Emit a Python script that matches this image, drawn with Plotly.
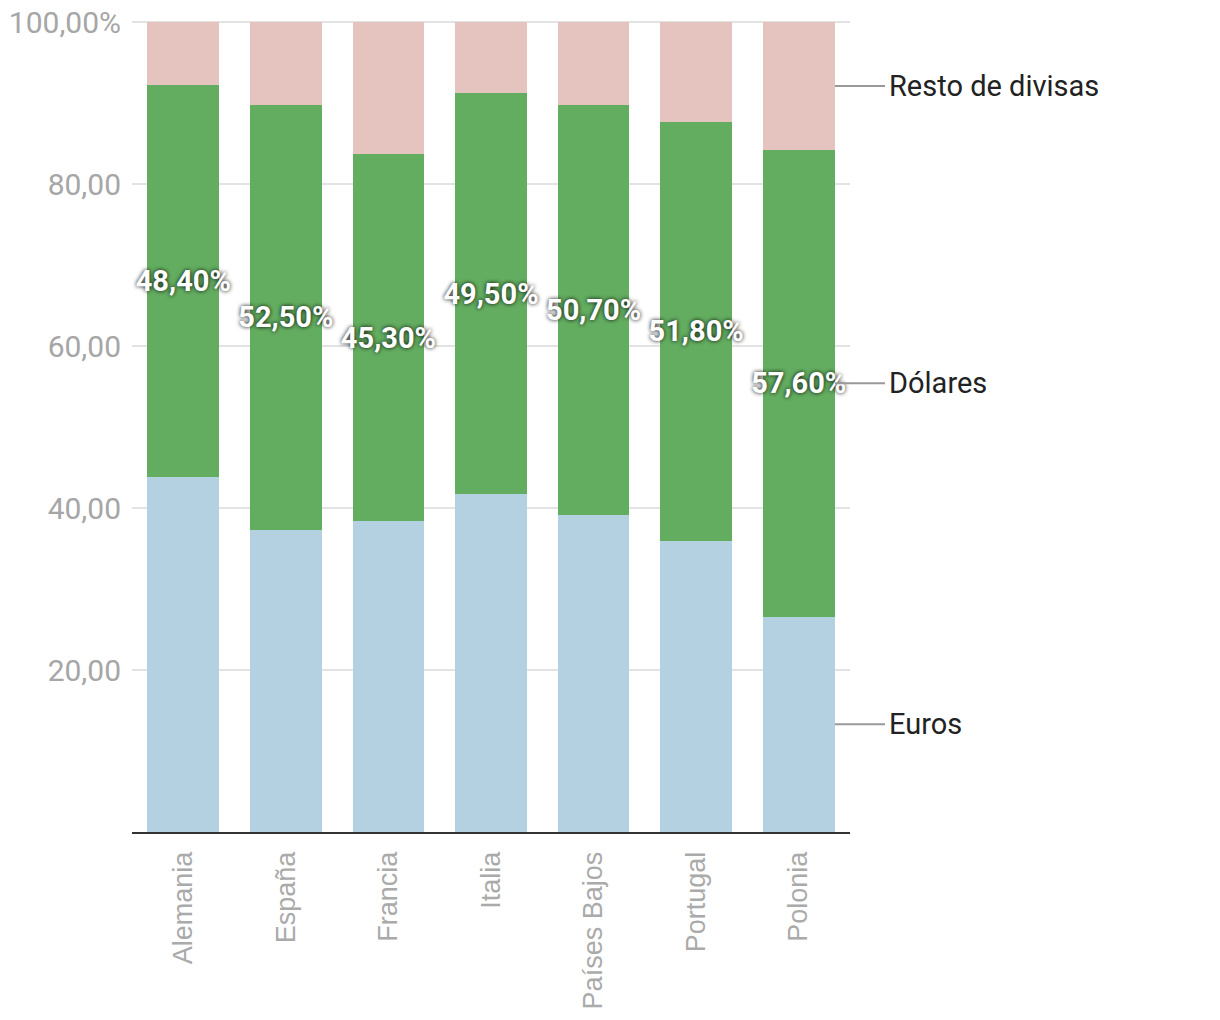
import plotly.graph_objects as go

paises = ["Alemania", "España", "Francia", "Italia", "Países Bajos", "Portugal", "Polonia"]
euros = [43.8, 37.3, 38.4, 41.7, 39.1, 35.9, 26.6]
dolares = [48.4, 52.5, 45.3, 49.5, 50.7, 51.8, 57.6]
resto = [round(100 - e - d, 1) for e, d in zip(euros, dolares)]
etiquetas_dolares = ["48,40%", "52,50%", "45,30%", "49,50%", "50,70%", "51,80%", "57,60%"]
series_nombres = ["Euros", "Dólares", "Resto de divisas"]
y_ticks = [20, 40, 60, 80, 100]
y_ticktext = ["20,00", "40,00", "60,00", "80,00", "100,00%"]

c_euros = "#b3d1e1"
c_dol = "#63ad60"
c_resto = "#e5c3bf"

fig = go.Figure()
fig.add_trace(go.Bar(x=paises, y=euros, name="Euros", marker=dict(color=c_euros, line=dict(width=0)),
                     hoverinfo="skip"))
fig.add_trace(go.Bar(x=paises, y=dolares, name="Dólares", marker=dict(color=c_dol, line=dict(width=0)),
                     text=etiquetas_dolares, textposition="inside", insidetextanchor="middle",
                     textangle=0, constraintext="none",
                     textfont=dict(family="Roboto", size=29, color="white", weight="bold",
                                   shadow="0px 0px 4px rgba(0,0,0,0.95)"),
                     hoverinfo="skip"))
fig.add_trace(go.Bar(x=paises, y=resto, name="Resto de divisas", marker=dict(color=c_resto, line=dict(width=0)),
                     hoverinfo="skip"))

# side labels at midpoints of the last bar's segments
last = len(paises) - 1
mids = [euros[last] / 2,
        euros[last] + dolares[last] / 2,
        euros[last] + dolares[last] + resto[last] / 2]
x0p = (835 - 132) / 718
x1p = (885 - 132) / 718
for name, ym in zip(series_nombres, mids):
    fig.add_shape(type="line", xref="paper", yref="y", x0=x0p, x1=x1p, y0=ym, y1=ym,
                  line=dict(color="#999999", width=2), layer="above")
    fig.add_annotation(xref="paper", yref="y", x=x1p, y=ym, text=name, showarrow=False,
                       xanchor="left", yanchor="middle", xshift=2,
                       font=dict(family="Roboto", size=29, color="#222222"))

fig.update_layout(
    barmode="stack",
    bargap=0.3,
    width=1204, height=1004,
    margin=dict(l=124, r=362, t=12, b=180, pad=0),
    paper_bgcolor="white", plot_bgcolor="white",
    showlegend=False,
    xaxis=dict(tickangle=-90, tickfont=dict(family="Liberation Sans", size=27, color="#aaaaaa"),
               showline=True, linecolor="#333333", linewidth=2, ticks="", showgrid=False,
               ticklabelstandoff=7, fixedrange=True, automargin=False),
    yaxis=dict(range=[0, 100.25], tickvals=y_ticks, ticktext=y_ticktext,
               tickfont=dict(family="Roboto", size=30, color="#a6a6a6"),
               showgrid=True, gridcolor="#e3e3e3", gridwidth=1.5, zeroline=False,
               ticks="", ticklabelstandoff=10, fixedrange=True, automargin=False,
               ticklabeloverflow="allow"),
)

fig.write_html("out.html")
